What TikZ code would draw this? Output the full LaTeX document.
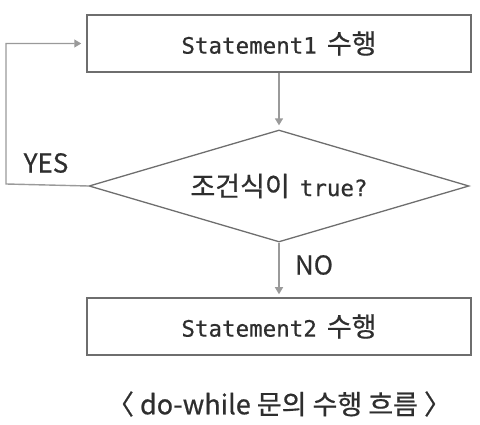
\documentclass[tikz,border=0pt]{standalone}
\usepackage{fontspec}
\usetikzlibrary{shapes.geometric,arrows.meta}
\newfontfamily\krf[FakeBold=0.6]{Noto Sans CJK KR}
\newfontfamily\monof[FakeBold=0.6]{DejaVu Sans Mono}
\definecolor{linegray}{HTML}{6E6E6E}
\definecolor{arrgray}{HTML}{9A9A9A}
\definecolor{txt}{HTML}{2E2E2E}
\newcommand{\stmt}[1]{{\monof\fontsize{22.5}{26}\selectfont #1}\hspace{10pt}{\krf\fontsize{27}{30}\selectfont 수행}}
\begin{document}
\begin{tikzpicture}[x=1pt,y=-1pt,
  stbox/.style={draw=linegray,line width=1.5pt,minimum width=384pt,minimum height=57pt,inner sep=0pt,text=txt},
  cond/.style={diamond,draw=linegray,line width=1.3pt,aspect=3.39,minimum width=380pt,minimum height=112pt,inner sep=0pt,text=txt},
  arr/.style={draw=arrgray,line width=1.4pt,-{Triangle[width=8pt,length=7pt]}},
  lbl/.style={text=txt,font=\krf\fontsize{26}{28}\selectfont,inner sep=0pt}]
\useasboundingbox (0,0) rectangle (480,425);
\node[stbox] (s1) at (279,43.5) {\stmt{Statement1}};
\node[cond] (dia) at (279,186) {{\krf\fontsize{27}{30}\selectfont 조건식이}\hspace{10pt}{\monof\fontsize{22.5}{26}\selectfont true?}};
\node[stbox] (s2) at (279,326.5) {\stmt{Statement2}};
\coordinate (lp) at (6,184);
\draw[arr,shorten >=4pt] (s1) -- (dia);
\draw[arr,shorten >=3pt] (dia) -- (s2);
\draw[arr,shorten >=5pt] (dia.west) -- (lp) |- (s1.west);
\node[lbl] (yes) at (46,163) {YES};
\node[lbl] (no) at (314,265) {NO};
\node[lbl,font=\krf\fontsize{27}{29}\selectfont] (cap) at (279,404) {〈 do-while 문의 수행 흐름 〉};
\end{tikzpicture}
\end{document}
